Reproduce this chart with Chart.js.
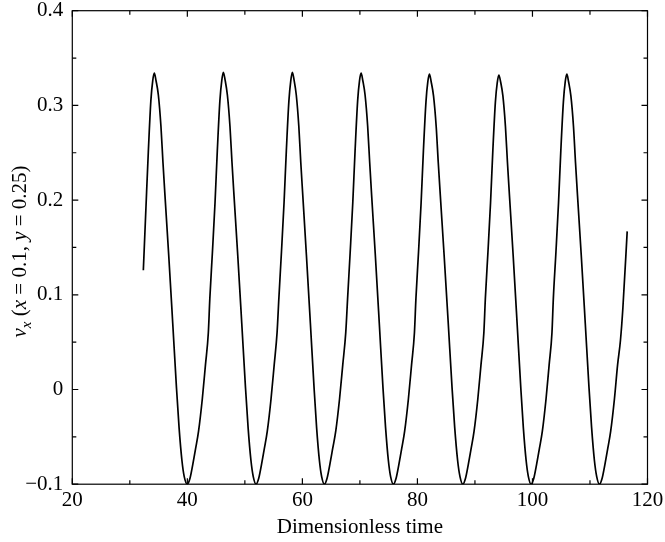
<!DOCTYPE html>
<html>
<head>
<meta charset="utf-8">
<title>v_x time series</title>
<script src="https://cdn.jsdelivr.net/npm/chart.js@4.4.1/dist/chart.umd.min.js"></script>
<style>
  html, body { margin: 0; padding: 0; background: #fff; }
  .chart-box { width: 665px; height: 542px; }
</style>
</head>
<body>
<div class="chart-box"><canvas class="vx-chart"></canvas></div>
<script>
// dimensionless time
const time = [
  32.35, 32.81, 33.21, 33.66, 33.98, 34.26,
  34.56, 34.96, 35.41, 35.76, 36.11, 36.76, 37.46, 38.11, 38.56, 39.06, 39.46, 40.00,
  40.45, 40.95, 41.45, 41.95, 42.60, 43.15, 43.65, 43.91, 44.36, 44.81, 45.21, 45.66, 45.98, 46.26,
  46.56, 46.96, 47.41, 47.76, 48.11, 48.76, 49.46, 50.11, 50.56, 51.06, 51.46, 51.95,
  52.40, 52.90, 53.40, 53.90, 54.55, 55.10, 55.60, 55.91, 56.36, 56.81, 57.21, 57.66, 57.98, 58.26,
  58.55, 58.94, 59.38, 59.72, 60.07, 60.70, 61.39, 62.03, 62.47, 62.96, 63.35, 63.83,
  64.28, 64.78, 65.28, 65.80, 66.46, 67.02, 67.54, 67.86, 68.31, 68.76, 69.16, 69.61, 69.93, 70.21,
  70.51, 70.90, 71.35, 71.70, 72.04, 72.68, 73.37, 74.01, 74.46, 74.95, 75.34, 75.83,
  76.28, 76.78, 77.28, 77.78, 78.43, 78.98, 79.48, 79.74, 80.19, 80.64, 81.04, 81.49, 81.81, 82.09,
  82.39, 82.80, 83.26, 83.62, 83.98, 84.64, 85.36, 86.02, 86.48, 86.99, 87.40, 87.90,
  88.35, 88.85, 89.35, 89.85, 90.50, 91.05, 91.55, 91.81, 92.26, 92.71, 93.11, 93.56, 93.88, 94.16,
  94.46, 94.86, 95.30, 95.65, 96.00, 96.64, 97.33, 97.97, 98.41, 98.90, 99.29, 99.77,
  100.22, 100.72, 101.22, 101.72, 102.36, 102.90, 103.39, 103.63, 104.08, 104.53, 104.93, 105.38, 105.70, 105.98,
  106.28, 106.68, 107.13, 107.48, 107.83, 108.48, 109.18, 109.83, 110.28, 110.77, 111.17, 111.65,
  112.10, 112.60, 113.10, 113.60, 114.25, 114.80, 115.30, 115.72, 116.47
];

// v_x at (x = 0.1, y = 0.25)
const vx = [
  0.126, 0.193, 0.250, 0.305, 0.326, 0.334,
  0.326, 0.311, 0.278, 0.240, 0.205, 0.142, 0.070, 0.002, -0.040, -0.075, -0.092, -0.100,
  -0.094, -0.079, -0.062, -0.044, -0.010, 0.026, 0.060, 0.096, 0.145, 0.197, 0.252, 0.305, 0.326, 0.335,
  0.327, 0.311, 0.278, 0.240, 0.205, 0.142, 0.070, 0.002, -0.040, -0.075, -0.092, -0.100,
  -0.094, -0.079, -0.062, -0.044, -0.010, 0.026, 0.060, 0.096, 0.145, 0.197, 0.252, 0.305, 0.326, 0.335,
  0.327, 0.311, 0.278, 0.240, 0.205, 0.142, 0.070, 0.002, -0.040, -0.075, -0.092, -0.100,
  -0.094, -0.079, -0.062, -0.044, -0.010, 0.026, 0.060, 0.096, 0.145, 0.197, 0.252, 0.305, 0.326, 0.334,
  0.326, 0.311, 0.278, 0.240, 0.205, 0.142, 0.070, 0.002, -0.040, -0.075, -0.092, -0.100,
  -0.094, -0.079, -0.062, -0.044, -0.010, 0.026, 0.060, 0.096, 0.145, 0.197, 0.252, 0.304, 0.325, 0.333,
  0.325, 0.310, 0.278, 0.240, 0.205, 0.142, 0.070, 0.002, -0.040, -0.075, -0.092, -0.100,
  -0.094, -0.079, -0.062, -0.044, -0.010, 0.026, 0.060, 0.096, 0.145, 0.197, 0.252, 0.304, 0.324, 0.332,
  0.325, 0.310, 0.278, 0.240, 0.205, 0.142, 0.070, 0.002, -0.040, -0.075, -0.092, -0.100,
  -0.094, -0.079, -0.062, -0.044, -0.010, 0.026, 0.060, 0.096, 0.145, 0.197, 0.252, 0.304, 0.325, 0.333,
  0.325, 0.310, 0.278, 0.240, 0.205, 0.142, 0.070, 0.002, -0.040, -0.075, -0.092, -0.100,
  -0.094, -0.079, -0.062, -0.044, -0.010, 0.026, 0.052, 0.086, 0.167
];

const xTicks = [20, 40, 60, 80, 100, 120];
const xMinor = [30, 50, 70, 90, 110];
const yTicks = [-0.1, 0, 0.1, 0.2, 0.3, 0.4];
const yMinor = [-0.05, 0.05, 0.15, 0.25, 0.35];

const serif = '"Liberation Serif", "Times New Roman", serif';

// box round the plot with inward ticks on all four sides
const frameTicks = {
    id: 'frameTicks',
    afterDatasetsDraw(chart) {
        const { ctx, chartArea: a, scales: { x, y } } = chart;
        ctx.save();
        ctx.strokeStyle = '#000';
        ctx.lineWidth = 1.2;
        ctx.strokeRect(a.left, a.top, a.right - a.left, a.bottom - a.top);
        ctx.beginPath();
        const tickX = (v, len) => {
            const px = x.getPixelForValue(v);
            ctx.moveTo(px, a.bottom); ctx.lineTo(px, a.bottom - len);
            ctx.moveTo(px, a.top); ctx.lineTo(px, a.top + len);
        };
        const tickY = (v, len) => {
            const py = y.getPixelForValue(v);
            ctx.moveTo(a.left, py); ctx.lineTo(a.left + len, py);
            ctx.moveTo(a.right, py); ctx.lineTo(a.right - len, py);
        };
        xTicks.forEach(v => tickX(v, 6));
        xMinor.forEach(v => tickX(v, 4));
        yTicks.forEach(v => tickY(v, 6));
        yMinor.forEach(v => tickY(v, 4));
        ctx.stroke();
        ctx.restore();
    }
};

// y title with italic letters and a subscript
const yTitle = {
    id: 'yTitle',
    afterDraw(chart) {
        const { ctx, chartArea: a } = chart;
        const big = '21px ' + serif;
        const ital = 'italic 21px ' + serif;
        const sub = 'italic 15px ' + serif;
        const parts = [
            ['v', ital, 0],
            ['x', sub, 5],
            [' (', big, 0],
            ['x', ital, 0],
            [' = 0.1, ', big, 0],
            ['y', ital, 0],
            [' = 0.25)', big, 0]
        ];
        ctx.save();
        let total = 0;
        parts.forEach(p => { ctx.font = p[1]; total += ctx.measureText(p[0]).width; });
        ctx.translate(26, (a.top + a.bottom) / 2 + 4);
        ctx.rotate(-Math.PI / 2);
        ctx.fillStyle = '#000';
        ctx.textBaseline = 'alphabetic';
        let pos = -total / 2;
        parts.forEach(p => {
            ctx.font = p[1];
            ctx.fillText(p[0], pos, p[2]);
            pos += ctx.measureText(p[0]).width;
        });
        ctx.restore();
    }
};

const ctx = document.querySelector('.vx-chart');

new Chart(ctx, {
    type: 'line',
    data: {
        datasets: [{
            label: 'v_x',
            data: time.map((t, i) => ({ x: t, y: vx[i] })),
            borderColor: '#000',
            borderWidth: 1.7,
            pointRadius: 0,
            fill: false,
            cubicInterpolationMode: 'monotone'
        }]
    },
    options: {
        responsive: true,
        maintainAspectRatio: false,
        animation: false,
        layout: {
            padding: { top: 10.7, right: 17.5, bottom: 0, left: 0 }
        },
        scales: {
            x: {
                type: 'linear',
                min: 20,
                max: 120,
                afterBuildTicks: s => { s.ticks = xTicks.map(v => ({ value: v })); },
                afterFit: s => { s.height = 57.8; s.paddingLeft = 0; s.paddingRight = 0; },
                grid: { display: false, drawTicks: false },
                border: { display: false },
                ticks: {
                    color: '#000',
                    font: { family: serif, size: 21 },
                    padding: 4,
                    maxRotation: 0
                },
                title: {
                    display: true,
                    text: 'Dimensionless time',
                    color: '#000',
                    font: { family: serif, size: 21 },
                    padding: { top: 0, bottom: 2 }
                }
            },
            y: {
                min: -0.1,
                max: 0.4,
                afterBuildTicks: s => { s.ticks = yTicks.map(v => ({ value: v })); },
                afterFit: s => { s.width = 72.3; s.paddingTop = 0; s.paddingBottom = 0; },
                grid: { display: false, drawTicks: false },
                border: { display: false },
                ticks: {
                    color: '#000',
                    font: { family: serif, size: 21 },
                    padding: 9,
                    callback: v => v === 0 ? '0' : (v < 0 ? '\u2212' + Math.abs(v).toFixed(1) : v.toFixed(1))
                }
            }
        },
        plugins: {
            legend: { display: false },
            tooltip: { enabled: false }
        }
    },
    plugins: [frameTicks, yTitle]
});
</script>
</body>
</html>
